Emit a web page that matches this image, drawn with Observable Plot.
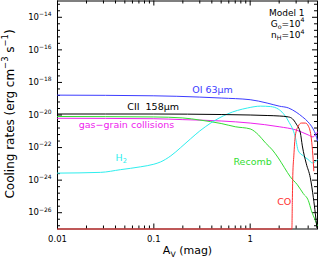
<!DOCTYPE html>
<html><head><meta charset="utf-8">
<script src="https://cdn.jsdelivr.net/npm/d3@7"></script>
<script src="https://cdn.jsdelivr.net/npm/@observablehq/plot@0.6"></script>
<style>html,body{margin:0;padding:0;background:#fff;} svg{display:block}</style>
</head><body><div id="chart"></div>
<script>
// ---- data (A_V in mag, cooling rate in erg cm^-3 s^-1) ----
const avOI   = [0.01, 0.1, 0.3, 0.5, 1, 1.5, 2, 2.5, 3, 3.5, 4, 4.5, 4.8, 5];
const rateOI = [1.66e-19, 1.51e-19, 1.26e-19, 1.10e-19, 8.7e-20, 5.4e-20, 3.5e-20, 2.7e-20, 1.5e-20, 7.6e-21, 3.7e-21, 1.4e-21, 6.0e-22, 2.6e-22];

const avCII   = [0.01, 0.1, 0.5, 1, 1.5, 2, 2.5, 2.75, 3.01, 3.32, 3.48, 3.83, 4.21, 4.53, 4.75, 4.92];
const rateCII = [1.15e-20, 1.15e-20, 1.07e-20, 1.0e-20, 9.3e-21, 8.7e-21, 7.6e-21, 5.8e-21, 2.8e-21, 7.9e-22, 1.26e-22, 1.0e-23, 1.4e-24, 8.3e-26, 8.7e-27, 1.2e-27];

const avGG   = [0.01, 0.1, 0.2, 0.5, 1, 2, 3, 4, 4.5, 4.8, 5];
const rateGG = [6.3e-21, 5.9e-21, 5.2e-21, 4.3e-21, 3.2e-21, 1.9e-21, 1.2e-21, 6.0e-22, 4.5e-22, 6.9e-22, 9.1e-22];

const avRec   = [0.01, 0.1, 0.2, 0.3, 0.5, 0.7, 1, 1.22, 1.44, 1.70, 1.96, 2.27, 2.61, 3.09, 3.56, 4.02, 4.32, 4.75, 4.98];
const rateRec = [8.1e-21, 7.6e-21, 6.6e-21, 4.9e-21, 3.0e-21, 1.9e-21, 1.4e-21, 6.0e-22, 1.95e-22, 7.2e-23, 2.3e-23, 5.8e-24, 1.6e-24, 5.2e-25, 1.5e-25, 5.5e-26, 1.35e-26, 3.3e-27, 1.6e-27];

const avH2   = [0.01, 0.028, 0.045, 0.073, 0.1, 0.117, 0.15, 0.19, 0.24, 0.30, 0.39, 0.58, 0.94, 1.28, 1.62, 1.96, 2.49, 2.94, 3.16, 3.56, 4.02, 4.42, 4.75, 4.98];
const rateH2 = [2.7e-24, 3.0e-24, 4.4e-24, 6.6e-24, 9.5e-24, 1.3e-23, 3.1e-23, 1.0e-22, 3.4e-22, 1.05e-21, 3.2e-21, 1.15e-20, 2.7e-20, 3.5e-20, 3.3e-20, 2.3e-20, 4.3e-21, 4.5e-22, 6.3e-23, 3.1e-23, 1.8e-23, 1.15e-23, 1.35e-23, 1.8e-23];

const avCO   = [0.01, 2.71, 2.74, 2.77, 2.84, 2.94, 3.16, 3.40, 3.74, 4.02, 4.32, 4.48, 4.58];
const rateCO = [1e-27, 1e-27, 5.5e-26, 1.9e-24, 3.1e-23, 5.2e-22, 2.1e-21, 3.2e-21, 3.2e-21, 2.1e-21, 3.4e-22, 3.1e-23, 3.7e-24];

// ---- ticks ----
const xTickValues = [0.01, 0.1, 1];
const xTickLabels = ["0.01", "0.1", "1"];
const xMinor = [0.02,0.03,0.04,0.05,0.06,0.07,0.08,0.09,0.2,0.3,0.4,0.5,0.6,0.7,0.8,0.9,2,3,4];
const yTickExp = [-26, -24, -22, -20, -18, -16, -14];
const yTickLabels = ["10^{−26}","10^{−24}","10^{−22}","10^{−20}","10^{−18}","10^{−16}","10^{−14}"];
const yMajor = yTickExp.map(e => Math.pow(10, e));
const yMinor = [];
for (let e = -28; e <= -14; e += 2) for (let k = 1; k <= 4; k++) {
  const v = e + 0.4 * k; if (v > -27 && v < -13) yMinor.push(Math.pow(10, v));
}

const rows = (av, r) => av.map((a, i) => ({av: a, rate: r[i]}));
const C = {OI: "#3c3cff", CII: "#000000", GG: "#ee22ee", H2: "#2eeeee", Rec: "#33dd33", CO: "#ff3030"};

const ML = 57, MR = 1, MT = 0.5, MB = 29.5, W = 318, H = 258;
const PW = W - ML - MR, PH = H - MT - MB;

const line = (av, r, c) => Plot.line(rows(av, r), {x: "av", y: "rate", stroke: c, strokeWidth: 1, curve: "monotone-x"});

const plot = Plot.plot({
  width: W, height: H,
  marginLeft: ML, marginRight: MR, marginTop: MT, marginBottom: MB,
  x: {type: "log", domain: [0.01, 5], axis: null},
  y: {type: "log", domain: [1e-27, 1e-13], axis: null},
  style: {fontFamily: "DejaVu Sans, sans-serif", background: "#fff", overflow: "visible"},
  marks: [
    Plot.frame({stroke: "black"}),
    // x ticks bottom / top
    Plot.tickX(xTickValues, {x: d => d, insetTop: PH - 5, stroke: "black"}),
    Plot.tickX(xMinor, {x: d => d, insetTop: PH - 3, stroke: "black"}),
    Plot.tickX(xTickValues, {x: d => d, insetBottom: PH - 5, stroke: "black"}),
    Plot.tickX(xMinor, {x: d => d, insetBottom: PH - 3, stroke: "black"}),
    // y ticks left / right
    Plot.tickY(yMajor, {y: d => d, insetRight: PW - 5, stroke: "black"}),
    Plot.tickY(yMinor, {y: d => d, insetRight: PW - 3, stroke: "black"}),
    Plot.tickY(yMajor, {y: d => d, insetLeft: PW - 5, stroke: "black"}),
    Plot.tickY(yMinor, {y: d => d, insetLeft: PW - 3, stroke: "black"}),
    // tick labels
    Plot.text(xTickValues, {x: d => d, frameAnchor: "bottom", dy: 7, lineAnchor: "top", text: (d, i) => xTickLabels[i], fontSize: 8.5, fill: "black"}),
    Plot.text(yMajor, {y: d => d, frameAnchor: "left", dx: -6, textAnchor: "end", text: (d, i) => yTickLabels[i], fontSize: 8.5, fill: "black"}),
    // axis titles
    Plot.text(["A_{V} (mag)"], {frameAnchor: "bottom", dy: 17, lineAnchor: "top", textAnchor: "middle", fontSize: 11, fill: "black"}),
    Plot.text(["Cooling rates (erg cm^{−3} s^{−1})"], {frameAnchor: "left", dx: -47.5, dy: -1, rotate: -90, textAnchor: "middle", fontSize: 12, fill: "black"}),
    // curves
    line(avGG, rateGG, C.GG),
    line(avRec, rateRec, C.Rec),
    line(avH2, rateH2, C.H2),
    line(avCII, rateCII, C.CII),
    line(avOI, rateOI, C.OI),
    line(avCO, rateCO, C.CO),
    // curve labels
    Plot.text(["OI 63µm"], {x: 0.25, y: 2.1e-19, textAnchor: "start", lineAnchor: "bottom", fill: C.OI, fontSize: 9.5}),
    Plot.text(["CII\u00a0\u00a0158µm"], {x: 0.053, y: 1.9e-20, textAnchor: "start", lineAnchor: "bottom", fill: C.CII, fontSize: 9.5}),
    Plot.text(["gas−grain collisions"], {x: 0.052, y: 1.7e-21, textAnchor: "middle", lineAnchor: "bottom", fill: C.GG, fontSize: 9.5}),
    Plot.text(["H_{2}"], {x: 0.040, y: 1.6e-23, textAnchor: "start", lineAnchor: "bottom", fill: C.H2, fontSize: 9.5}),
    Plot.text(["Recomb"], {x: 0.67, y: 8e-24, textAnchor: "start", lineAnchor: "bottom", fill: C.Rec, fontSize: 9.5}),
    Plot.text(["CO"], {x: 1.91, y: 2.8e-26, textAnchor: "start", lineAnchor: "bottom", fill: C.CO, fontSize: 9.5}),
    // model annotation
    Plot.text(["Model 1"], {frameAnchor: "top-right", dx: -13, dy: 15, textAnchor: "end", lineAnchor: "bottom", fontSize: 9, fill: "black"}),
    Plot.text(["G_{o}=10^{4}"], {frameAnchor: "top-right", dx: -13, dy: 25.5, textAnchor: "end", lineAnchor: "bottom", fontSize: 9, fill: "black"}),
    Plot.text(["n_{H}=10^{4}"], {frameAnchor: "top-right", dx: -13, dy: 37, textAnchor: "end", lineAnchor: "bottom", fontSize: 9, fill: "black"})
  ]
});
document.getElementById("chart").appendChild(plot);

// ---- convert ^{..} / _{..} markup into tspans ----
const NS = "http://www.w3.org/2000/svg";
plot.querySelectorAll("text").forEach(t => {
  const s = t.textContent;
  if (!/[\^_]\{/.test(s)) return;
  const F = parseFloat(getComputedStyle(t).fontSize) || 10;
  t.textContent = "";
  const re = /([\^_])\{([^}]*)\}/g;
  let last = 0, m, cur = 0;
  const add = (str, off, small) => {
    const ts = document.createElementNS(NS, "tspan");
    const dy = off - cur; cur = off;
    if (dy) ts.setAttribute("dy", dy.toFixed(2));
    if (small) ts.setAttribute("font-size", (F * 0.7).toFixed(2));
    ts.textContent = str;
    t.appendChild(ts);
  };
  while ((m = re.exec(s))) {
    if (m.index > last) add(s.slice(last, m.index), 0, false);
    add(m[2], m[1] === "^" ? -0.45 * F : 0.25 * F, true);
    last = re.lastIndex;
  }
  if (last < s.length) add(s.slice(last), 0, false);
});
</script></body></html>
